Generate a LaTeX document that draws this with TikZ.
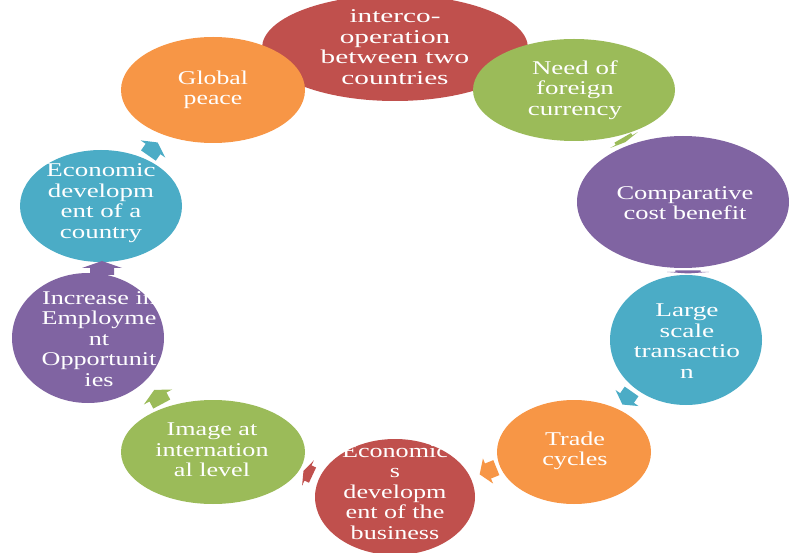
\documentclass[tikz,border=0pt]{standalone}
\usepackage{fontspec}
\setmainfont{Liberation Serif}
\usetikzlibrary{shapes.geometric}
\definecolor{cred}{HTML}{C0504D}
\definecolor{cgreen}{HTML}{9BBB59}
\definecolor{cpurple}{HTML}{8064A2}
\definecolor{cteal}{HTML}{4BACC6}
\definecolor{corange}{HTML}{F79646}
\newcommand\blockarr[6]{%
  \fill[#6, shift={(#1,#2)}, rotate=#3, xscale=#4, yscale=#5]
    (-0.5,-0.3) -- (0,-0.3) -- (0,-0.5) -- (0.5,0) -- (0,0.5) -- (0,0.3) -- (-0.5,0.3) -- cycle;}
\tikzset{
  blob/.style={ellipse, inner sep=0pt, draw=none, fill=#1},
  lbl/.style={text=white, align=center, inner sep=0pt,
    font={\fontspec[FakeStretch=#1]{Liberation Serif}\fontsize{19.5}{20.5}\selectfont}},
}
\begin{document}
\begin{tikzpicture}[x=1pt,y=-1pt]
\useasboundingbox (0,0) rectangle (790,553);
% ellipses
\node[blob=cred,    minimum width=266, minimum height=106] (e1) at (395,48) {};
\node[blob=cgreen,  minimum width=202, minimum height=102] (e2) at (574,90) {};
\node[blob=cpurple, minimum width=212, minimum height=132] (e3) at (683,202) {};
\node[blob=cteal,   minimum width=152, minimum height=130] (e4) at (686,340) {};
\node[blob=corange, minimum width=154, minimum height=104] (e5) at (574,452) {};
\node[blob=cred,    minimum width=160, minimum height=116] (e6) at (395,497) {};
\node[blob=cgreen,  minimum width=184, minimum height=104] (e7) at (213,452) {};
\node[blob=cpurple, minimum width=152, minimum height=130] (e8) at (88,338) {};
\node[blob=cteal,   minimum width=162, minimum height=112] (e9) at (101,206) {};
\node[blob=corange, minimum width=184, minimum height=106] (e10) at (213,90) {};
% labels
\node[lbl=1.5]  (t1) at (395,47) {interco-\\operation\\between two\\countries};
\node[lbl=1.38] (t2) at (575,90) {Need of\\foreign\\currency};
\node[lbl=1.36] (t3) at (685,203) {Comparative\\cost benefit};
\node[lbl=1.4]  (t4) at (687,341) {Large\\scale\\transactio\\n};
\node[lbl=1.34] (t5) at (575,451) {Trade\\cycles};
\node[lbl=1.34] (t6) at (395,492) {Economic\\s\\developm\\ent of the\\business};
\node[lbl=1.34] (t7) at (212,450) {Image at\\internation\\al level};
\node[lbl=1.34] (t8) at (99,339) {Increase in\\Employme\\nt\\Opportunit\\ies};
\node[lbl=1.38] (t9) at (101,203) {Economic\\developm\\ent of a\\country};
\node[lbl=1.32] (t10) at (213,90) {Global\\peace};
% block arrows (x, y, angle, length, width, colour)
\blockarr{624}{140}{-60}{5}{32}{cgreen}
\blockarr{688}{272}{-90}{3}{42}{cpurple}
\blockarr{627}{398}{-125}{16}{28}{cteal}
\blockarr{488}{471}{-158}{18}{27}{corange}
\blockarr{308}{473}{155}{10}{28}{cred}
\blockarr{158}{397}{118}{16}{32}{cgreen}
\blockarr{102}{268}{90}{14}{40}{cpurple}
\blockarr{153}{149}{55}{16}{30}{cteal}
\end{tikzpicture}
\end{document}
